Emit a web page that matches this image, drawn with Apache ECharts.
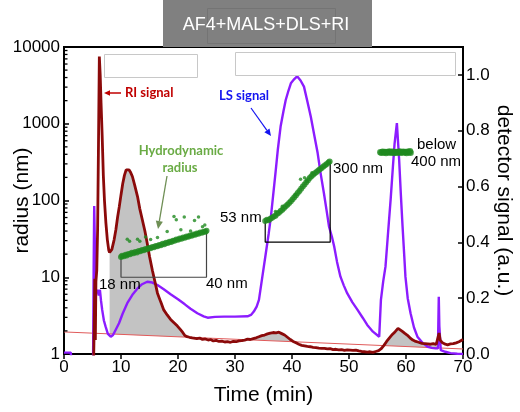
<!DOCTYPE html>
<html><head><meta charset="utf-8">
<script src="https://cdn.jsdelivr.net/npm/echarts@6/dist/echarts.min.js"></script>
<style>html,body{margin:0;padding:0;background:#fff}#c{width:520px;height:412px}</style>
</head><body><div id="c"></div>
<script>
// ---- data ----
const riTime = [5.2,5.3,5.4,5.5,5.6,5.75,5.9,6.05,6.2,6.35,6.5,6.7,6.9,7.1,7.35,7.6,7.85,8.0,8.2,8.4,8.8,9.1,9.4,9.7,10.0,10.3,10.6,10.9,11.1,11.4,11.7,12.0,12.4,12.9,13.3,13.75,14.2,14.6,15.0,15.5,16.0,16.4,17.0,17.5,18.1,18.7,19.3,19.9,20.4,20.8,21.2,21.6,22.0,22.5,22.8,23.3,23.8,24.3,24.8,25.3,25.7,26.2,26.7,27.2,27.7,28.2,28.7,29.2,29.7,30.2,30.7,31.2,31.7,32.2,32.7,33.2,33.7,34.2,34.7,35.2,35.7,36.2,36.7,37.2,37.7,38.2,38.7,39.2,39.7,40.2,40.7,41.2,41.7,42.2,42.7,43.2,43.7,44.2,44.7,45.2,45.7,46.2,46.7,47.2,47.7,48.2,48.7,49.2,49.7,50.2,50.7,51.2,51.7,52.2,52.7,53.2,53.7,54.2,54.7,55.2,55.6,56.1,56.6,57.1,57.6,58.1,58.6,58.9,59.3,59.8,60.2,60.7,61.2,61.7,62.2,62.8,63.3,63.8,64.3,64.8,65.3,65.6,65.8,66.0,66.4,66.9,67.3,67.8,68.3,68.8,69.3,69.6,70];
const riSignal = [-0.02,0.10,0.27,0.05,0.26,0.30,0.45,0.75,1.066,1.0,0.90,0.78,0.64,0.55,0.47,0.41,0.372,0.364,0.363,0.375,0.41,0.445,0.49,0.528,0.57,0.61,0.64,0.66,0.665,0.66,0.65,0.636,0.605,0.564,0.52,0.48,0.44,0.397,0.35,0.30,0.255,0.218,0.185,0.158,0.14,0.124,0.112,0.10,0.088,0.078,0.066,0.062,0.060,0.058,0.061,0.055,0.057,0.052,0.054,0.050,0.052,0.047,0.049,0.045,0.046,0.043,0.044,0.042,0.045,0.044,0.047,0.048,0.050,0.053,0.052,0.055,0.058,0.062,0.066,0.068,0.072,0.075,0.077,0.076,0.078,0.073,0.068,0.060,0.052,0.045,0.040,0.035,0.031,0.029,0.027,0.026,0.024,0.023,0.021,0.020,0.020,0.018,0.019,0.016,0.017,0.015,0.016,0.013,0.015,0.014,0.013,0.014,0.011,0.009,0.008,0.007,0.008,0.006,0.009,0.012,0.018,0.030,0.045,0.058,0.070,0.080,0.092,0.088,0.082,0.074,0.068,0.058,0.050,0.045,0.042,0.038,0.037,0.036,0.035,0.037,0.034,0.040,0.075,0.050,0.040,0.035,0.033,0.036,0.037,0.040,0.044,0.048,0.052];

const lsTime = [0,1.2,1.3,5.1,5.2,5.3,5.45,5.6,5.85,6.1,6.3,6.5,6.7,7.0,7.3,7.7,8.2,8.6,9.1,9.65,10.3,11.1,12.0,12.9,13.7,14.6,15.5,16.4,17.5,18.7,20.0,21.2,22.2,23.4,24.5,25.2,26.5,28.1,30,32.2,32.8,33.3,33.8,34.2,34.8,35.4,35.9,36.3,36.7,37.1,37.5,38.0,38.5,38.9,39.4,39.8,40.4,40.9,41.5,42.1,42.7,43.3,43.9,44.5,45.0,45.6,46.1,46.5,47.0,47.4,47.9,48.5,49.1,49.7,50.6,51.5,52.4,53.2,54.2,55.3,55.6,56.0,56.4,56.8,57.3,57.7,58.0,58.4,58.8,59.1,59.4,59.7,59.9,60.3,60.8,61.4,62.0,62.9,63.8,64.5,65.2,65.6,65.75,65.85,66.1,66.9,67.8,69.0,70];
const lsSignal = [0.005,0.005,-0.03,-0.03,0.30,0.53,0.35,0.22,0.23,0.21,0.23,0.19,0.158,0.12,0.098,0.072,0.062,0.068,0.088,0.11,0.145,0.182,0.212,0.235,0.25,0.259,0.256,0.247,0.232,0.214,0.196,0.178,0.162,0.146,0.135,0.13,0.133,0.134,0.134,0.135,0.14,0.152,0.17,0.194,0.277,0.36,0.43,0.492,0.57,0.648,0.73,0.815,0.87,0.91,0.945,0.97,0.985,0.995,0.98,0.958,0.905,0.85,0.785,0.72,0.65,0.576,0.51,0.456,0.42,0.385,0.33,0.277,0.245,0.217,0.185,0.158,0.13,0.104,0.08,0.062,0.194,0.26,0.313,0.42,0.552,0.67,0.755,0.827,0.695,0.57,0.456,0.35,0.277,0.20,0.146,0.095,0.062,0.04,0.026,0.022,0.02,0.02,0.205,0.10,0.014,0.008,0.003,0.001,0];

// RI baseline (thin red line) endpoints and filled peak ranges
const baseTime = [0, 70];
const baseSignal = [0.079, 0.018];
const fillStart = [8.0, 31.5, 55.8];
const fillEnd = [21.7, 40.8, 65.5];

// hydrodynamic radius (nm)
const hr1Time = [10.0,10.2,10.5,10.8,11.0,11.3,11.6,11.9,12.2,12.5,12.8,13.1,13.4,13.7,14.0,14.3,14.6,14.9,15.2,15.5,15.8,16.1,16.4,16.7,17.0,17.3,17.6,17.9,18.2,18.5,18.8,19.1,19.4,19.7,20.0,20.3,20.6,20.9,21.2,21.5,21.8,22.1,22.4,22.7,23.0,23.3,23.6,23.9,24.2,24.5,24.8,25.0];
const hr1Radius = [18.3,19.0,18.8,19.6,19.2,20.1,19.9,20.8,20.5,21.3,21.0,22.0,21.8,22.7,22.4,23.3,23.1,24.1,23.8,24.8,24.6,25.6,25.3,26.4,26.2,27.3,27.0,28.2,27.9,29.1,28.9,30.0,29.8,31.0,30.7,31.9,31.7,32.9,32.7,33.9,33.7,35.0,34.7,36.0,35.8,37.1,36.9,38.2,38.0,39.3,39.1,40.3];
const hr1OutTime = [11.1,11.5,12.9,13.3,14.3,15.2,16.4,18.1,19.3,19.7,20.5,21.1,22.2,22.9,23.6,24.3,24.7];
const hr1OutRadius = [31.3,29.5,31.3,29.5,33.5,31,33,39.5,62,56,41.5,61,40,55,61,45.5,48];
const hr2Time = [35.3,35.6,35.9,36.2,36.5,36.8,37.1,37.4,37.7,38.0,38.3,38.6,38.9,39.2,39.5,39.8,40.1,40.4,40.7,41.0,41.3,41.6,41.9,42.2,42.5,42.8,43.1,43.4,43.7,44.0,44.3,44.6,44.9,45.2,45.5,45.8,46.1,46.4,46.6];
const hr2Radius = [54,56,55.5,58,59.5,62,63.5,67,69,73,76,80,84,88,93,98,104,110,117,125,133,142,152,162,173,184,196,207,217,227,236,246,256,266,277,289,300,312,322];
const hr2OutTime = [37.1,38.3,40.6,41.5,42.2,42.6,43.5];
const hr2OutRadius = [72,84,120,189,198,179,230];
const hr3Time = [55.5,55.7,55.9,56.1,56.3,56.5,56.7,56.9,57.1,57.3,57.5,57.7,57.9,58.1,58.3,58.5,58.7,58.9,59.1,59.3,59.5,59.7,59.9,60.1,60.3,60.5,60.7,60.8];
const hr3Radius = [425,418,432,421,428,415,430,424,436,419,427,432,417,425,430,420,428,434,418,426,431,421,428,416,433,424,438,420];

// range brackets (time, radius)
const bracket1Time = [10, 10, 25, 25];
const bracket1Radius = [18.3, 10, 10, 40.3];
const bracket2Time = [35.3, 35.3, 46.7, 46.7];
const bracket2Radius = [54, 28.6, 28.6, 322];

const xTicks = [0, 70, 10];
const radiusMinorTicks = [2,3,4,5,6,7,8,9,20,30,40,50,60,70,80,90,200,300,400,500,600,700,800,900,2000,3000,4000,5000,6000,7000,8000,9000];

// ---- build ----
const zip = (a, b) => a.map((v, i) => [v, b[i]]);
const FONT = 'Liberation Sans';
const baseAt = t => baseSignal[0] + (baseSignal[1] - baseSignal[0]) * (t - baseTime[0]) / (baseTime[1] - baseTime[0]);

function arrow(x1, y1, x2, y2, color, w, head) {
  const a = Math.atan2(y2 - y1, x2 - x1), h = head || 7, s = h * 0.45;
  const bx = x2 - h * Math.cos(a), by = y2 - h * Math.sin(a);
  return [
    {type: 'line', z: 50, shape: {x1, y1, x2: bx, y2: by}, style: {stroke: color, lineWidth: w}},
    {type: 'polygon', z: 50, shape: {points: [[x2, y2], [bx - s * Math.sin(a), by + s * Math.cos(a)], [bx + s * Math.sin(a), by - s * Math.cos(a)]]}, style: {fill: color}}
  ];
}

const chart = echarts.init(document.getElementById('c'), null, {renderer: 'canvas'});
const greenStyle = {color: '#1f8a1f'};
const nameStyle = {fontFamily: FONT, fontSize: 21, color: '#000'};
chart.setOption({
  animation: false,
  grid: {left: 64, right: 57, top: 47, bottom: 58, containLabel: false, outerBoundsMode: 'none', show: true, borderColor: '#000', borderWidth: 2, backgroundColor: 'transparent'},
  xAxis: {
    type: 'value', min: xTicks[0], max: xTicks[1], interval: xTicks[2],
    axisLine: {lineStyle: {color: '#000', width: 2}},
    axisTick: {inside: false, length: 5, lineStyle: {color: '#000', width: 1.5}},
    axisLabel: {fontFamily: FONT, fontSize: 17, color: '#000', margin: 5},
    splitLine: {show: false},
    name: 'Time (min)', nameLocation: 'middle', nameGap: 31, nameMoveOverlap: false,
    nameTextStyle: nameStyle
  },
  yAxis: [{
    type: 'log', logBase: 10, min: 1, max: 10000, position: 'left',
    axisLine: {show: true, lineStyle: {color: '#000', width: 2}},
    axisTick: {show: true, inside: true, length: 5, lineStyle: {color: '#000', width: 1.5}},
    axisLabel: {fontFamily: FONT, fontSize: 17, color: '#000', margin: 4, formatter: v => String(Math.round(v))},
    splitLine: {show: false},
    name: 'radius (nm)', nameLocation: 'middle', nameGap: 31, nameMoveOverlap: false,
    nameTextStyle: nameStyle
  }, {
    type: 'value', min: 0, max: 1.1, interval: 0.2, position: 'right',
    axisLine: {show: true, lineStyle: {color: '#000', width: 2}},
    axisTick: {show: true, inside: true, length: 5, lineStyle: {color: '#000', width: 1.5}},
    axisLabel: {fontFamily: FONT, fontSize: 17, color: '#000', margin: 3, showMaxLabel: false, formatter: v => v.toFixed(1)},
    splitLine: {show: false},
    name: 'detector signal (a.u.)', nameLocation: 'middle', nameGap: 30, nameRotate: -90, nameMoveOverlap: false,
    nameTextStyle: nameStyle
  }],
  series: [
    {
      type: 'custom', yAxisIndex: 1, clip: true, z: 1,
      data: fillStart.map((s, i) => [s, fillEnd[i]]),
      renderItem: (params, api) => {
        const s = api.value(0), e = api.value(1);
        const pts = [api.coord([s, baseAt(s)])];
        riTime.forEach((t, i) => { if (t >= s && t <= e) pts.push(api.coord([t, Math.max(riSignal[i], baseAt(t))])); });
        pts.push(api.coord([e, baseAt(e)]));
        return {type: 'polygon', shape: {points: pts}, style: {fill: '#c3c3c3'}};
      }
    },
    {type: 'line', yAxisIndex: 1, data: zip(baseTime, baseSignal), symbol: 'none', lineStyle: {color: '#e05a5a', width: 1}, z: 2},
    {type: 'line', yAxisIndex: 1, data: zip(lsTime, lsSignal), symbol: 'none', lineStyle: {color: '#8c1cff', width: 2.4}, z: 3},
    {type: 'line', yAxisIndex: 1, data: zip(riTime, riSignal), symbol: 'none', lineStyle: {color: '#8b0a0a', width: 2.8}, z: 4},
    {type: 'line', yAxisIndex: 0, data: zip(bracket1Time, bracket1Radius), symbol: 'none', lineStyle: {color: '#444', width: 1.2}, z: 5},
    {type: 'line', yAxisIndex: 0, data: zip(bracket2Time, bracket2Radius), symbol: 'none', lineStyle: {color: '#000', width: 1.2}, z: 5},
    {type: 'scatter', yAxisIndex: 0, data: zip(hr1Time, hr1Radius), symbolSize: 6, itemStyle: greenStyle, z: 6},
    {type: 'scatter', yAxisIndex: 0, data: zip(hr1OutTime, hr1OutRadius), symbolSize: 3.5, itemStyle: greenStyle, z: 6},
    {type: 'scatter', yAxisIndex: 0, data: zip(hr2Time, hr2Radius), symbolSize: 6, itemStyle: greenStyle, z: 6},
    {type: 'scatter', yAxisIndex: 0, data: zip(hr2OutTime, hr2OutRadius), symbolSize: 3.5, itemStyle: greenStyle, z: 6},
    {type: 'scatter', yAxisIndex: 0, data: zip(hr3Time, hr3Radius), symbolSize: 6.5, itemStyle: greenStyle, z: 6},
    {
      type: 'custom', yAxisIndex: 0, clip: false, z: 7,
      data: radiusMinorTicks.map(v => [0, v]),
      renderItem: (params, api) => {
        const p = api.coord([0, api.value(1)]);
        return {type: 'line', shape: {x1: p[0], y1: p[1], x2: p[0] + 3.5, y2: p[1]}, style: {stroke: '#000', lineWidth: 1.3}};
      }
    }
  ],
  graphic: [
    {type: 'rect', z: 40, shape: {x: 163, y: 0, width: 209, height: 47}, style: {fill: '#808080'}},
    {type: 'rect', z: 41, shape: {x: 207.5, y: 8.5, width: 128, height: 35}, style: {fill: 'none', stroke: '#747474', lineWidth: 1}},
    {type: 'text', z: 42, x: 266, y: 25, style: {text: 'AF4+MALS+DLS+RI', font: '18px "Liberation Sans"', fill: '#fff', align: 'center', verticalAlign: 'middle'}},
    {type: 'rect', z: 40, shape: {x: 104.5, y: 54.5, width: 93, height: 23}, style: {fill: '#fff', stroke: '#c8c8c8', lineWidth: 1}},
    {type: 'rect', z: 40, shape: {x: 235.5, y: 52.5, width: 220, height: 23}, style: {fill: '#fff', stroke: '#c8c8c8', lineWidth: 1}},
    {type: 'text', z: 50, x: 125, y: 93, style: {text: 'RI signal', font: 'bold 13px Lato', fill: '#c00000', verticalAlign: 'middle'}},
    ...arrow(121, 93, 104, 93, '#c00000', 1.5, 6),
    {type: 'text', z: 50, x: 244, y: 96, style: {text: 'LS signal', font: 'bold 13px Lato', fill: '#1414f0', align: 'center', verticalAlign: 'middle'}},
    ...arrow(251, 108, 271, 136, '#1414f0', 1.2, 7),
    {type: 'text', z: 50, x: 181, y: 151, style: {text: 'Hydrodynamic', font: 'bold 13px Lato', fill: '#6aab45', align: 'center', verticalAlign: 'middle'}},
    {type: 'text', z: 50, x: 180, y: 168, style: {text: 'radius', font: 'bold 13px Lato', fill: '#6aab45', align: 'center', verticalAlign: 'middle'}},
    ...arrow(167, 176, 158, 229, '#6f8f55', 1.3, 8),
    {type: 'text', z: 50, x: 99, y: 285, style: {text: '18 nm', font: '15px "Liberation Sans"', fill: '#000', verticalAlign: 'middle'}},
    {type: 'text', z: 50, x: 206, y: 284, style: {text: '40 nm', font: '15px "Liberation Sans"', fill: '#000', verticalAlign: 'middle'}},
    {type: 'text', z: 50, x: 220, y: 218, style: {text: '53 nm', font: '15px "Liberation Sans"', fill: '#000', verticalAlign: 'middle'}},
    {type: 'text', z: 50, x: 333, y: 169, style: {text: '300 nm', font: '15px "Liberation Sans"', fill: '#000', verticalAlign: 'middle'}},
    {type: 'text', z: 50, x: 417, y: 145, style: {text: 'below', font: '15px "Liberation Sans"', fill: '#000', verticalAlign: 'middle'}},
    {type: 'text', z: 50, x: 411, y: 162, style: {text: '400 nm', font: '15px "Liberation Sans"', fill: '#000', verticalAlign: 'middle'}}
  ]
});
</script></body></html>
